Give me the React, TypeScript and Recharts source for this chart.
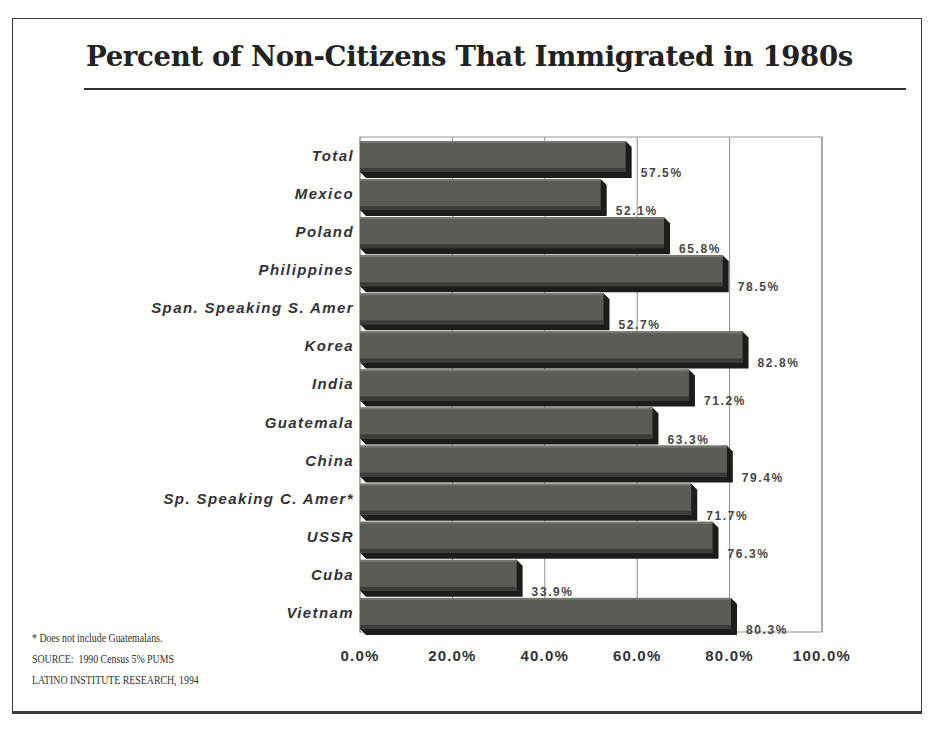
import { BarChart, Bar, XAxis, YAxis, CartesianGrid, ReferenceArea, LabelList } from 'recharts';

const categories = [
  'Total',
  'Mexico',
  'Poland',
  'Philippines',
  'Span. Speaking S. Amer',
  'Korea',
  'India',
  'Guatemala',
  'China',
  'Sp. Speaking C. Amer*',
  'USSR',
  'Cuba',
  'Vietnam',
];
const percents = [57.5, 52.1, 65.8, 78.5, 52.7, 82.8, 71.2, 63.3, 79.4, 71.7, 76.3, 33.9, 80.3];
const xTicks = [0, 20, 40, 60, 80, 100];
const notes = [
  '* Does not include Guatemalans.',
  'SOURCE:  1990 Census 5% PUMS',
  'LATINO INSTITUTE RESEARCH, 1994',
];

const data = categories.map((name, i) => ({ name, value: percents[i] }));

const sans = 'Arial, "Liberation Sans", Helvetica, sans-serif';

// dark gray slab with a black bevelled side and bottom (old 3D look)
const Slab = (props: any) => {
  const { x, y, width, height } = props;
  if (width == null || width <= 0) return null;
  const d = 6;
  const side = `${x + width},${y} ${x + width + d},${y + d} ${x + width + d},${y + height + d} ${x + d},${y + height + d} ${x},${y + height}`;
  return (
    <g>
      <polygon points={side} fill="#1c1c1a" />
      <rect x={x} y={y} width={width} height={height} fill="#5c5c57" />
      <rect x={x} y={y} width={width} height={2} fill="#76766e" />
      <rect x={x} y={y + height - 4} width={width} height={4} fill="#3c3c38" />
    </g>
  );
};

const CatTick = (props: any) => {
  const { x, y, payload } = props;
  return (
    <text
      x={x + 2}
      y={y + 1}
      textAnchor="end"
      dominantBaseline="middle"
      fontFamily={sans}
      fontWeight={700}
      fontStyle="italic"
      fontSize={15}
      letterSpacing={1.4}
      fill="#333338"
    >
      {payload.value}
    </text>
  );
};

const ValueLabel = (props: any) => {
  const { x, y, width, height, value } = props;
  return (
    <text
      x={x + width + 15}
      y={y + height + 5}
      fontFamily={sans}
      fontWeight={700}
      fontSize={12}
      letterSpacing={1.6}
      fill="#474747"
    >
      {`${Number(value).toFixed(1)}%`}
    </text>
  );
};

export default function App() {
  return (
    <div
      style={{
        position: 'fixed',
        left: 0,
        top: 0,
        width: 946,
        height: 740,
        background: '#fdfdfb',
        overflow: 'hidden',
      }}
    >
      <div
        style={{
          position: 'absolute',
          left: 12,
          top: 18,
          width: 908,
          height: 692,
          border: '1.5px solid #3c3c3c',
          borderBottomWidth: 3,
        }}
      />
      <div
        style={{
          position: 'absolute',
          left: 86,
          top: 40,
          fontFamily: '"DejaVu Serif", serif',
          fontWeight: 700,
          fontSize: 27.5,
          color: '#222',
          whiteSpace: 'nowrap',
          letterSpacing: -0.3,
        }}
      >
        Percent of Non-Citizens That Immigrated in 1980s
      </div>
      <div
        style={{
          position: 'absolute',
          left: 84,
          top: 88,
          width: 822,
          height: 2,
          background: '#333',
        }}
      />
      <div style={{ position: 'absolute', left: 0, top: 0 }}>
        <BarChart
          width={946}
          height={740}
          data={data}
          layout="vertical"
          margin={{ top: 137, right: 124, bottom: 88, left: 110 }}
          barSize={31}
        >
          <CartesianGrid horizontal={false} stroke="#8f8f8f" strokeWidth={1} />
          <ReferenceArea x1={0} x2={100} fill="none" stroke="#9a9a9a" strokeWidth={1.2} ifOverflow="visible" />
          <XAxis
            type="number"
            domain={[0, 100]}
            ticks={xTicks}
            tickFormatter={(v: number) => `${v.toFixed(1)}%`}
            axisLine={false}
            tickLine={false}
            height={20}
            tick={{ fontFamily: sans, fontWeight: 700, fontSize: 15, fill: '#333338', letterSpacing: 1.2, dy: 10 }}
          />
          <YAxis
            type="category"
            dataKey="name"
            width={250}
            axisLine={false}
            tickLine={false}
            interval={0}
            tick={<CatTick />}
          />
          <Bar dataKey="value" shape={<Slab />} isAnimationActive={false}>
            <LabelList dataKey="value" content={<ValueLabel />} />
          </Bar>
        </BarChart>
      </div>
      <div
        style={{
          position: 'absolute',
          left: 32,
          top: 628,
          fontFamily: '"Liberation Serif", "Times New Roman", serif',
          fontSize: 12,
          lineHeight: '21px',
          color: '#333',
          whiteSpace: 'pre',
          transform: 'scaleX(0.82)',
          transformOrigin: 'left top',
        }}
      >
        {notes.map((n) => (
          <div key={n}>{n}</div>
        ))}
      </div>
    </div>
  );
}
